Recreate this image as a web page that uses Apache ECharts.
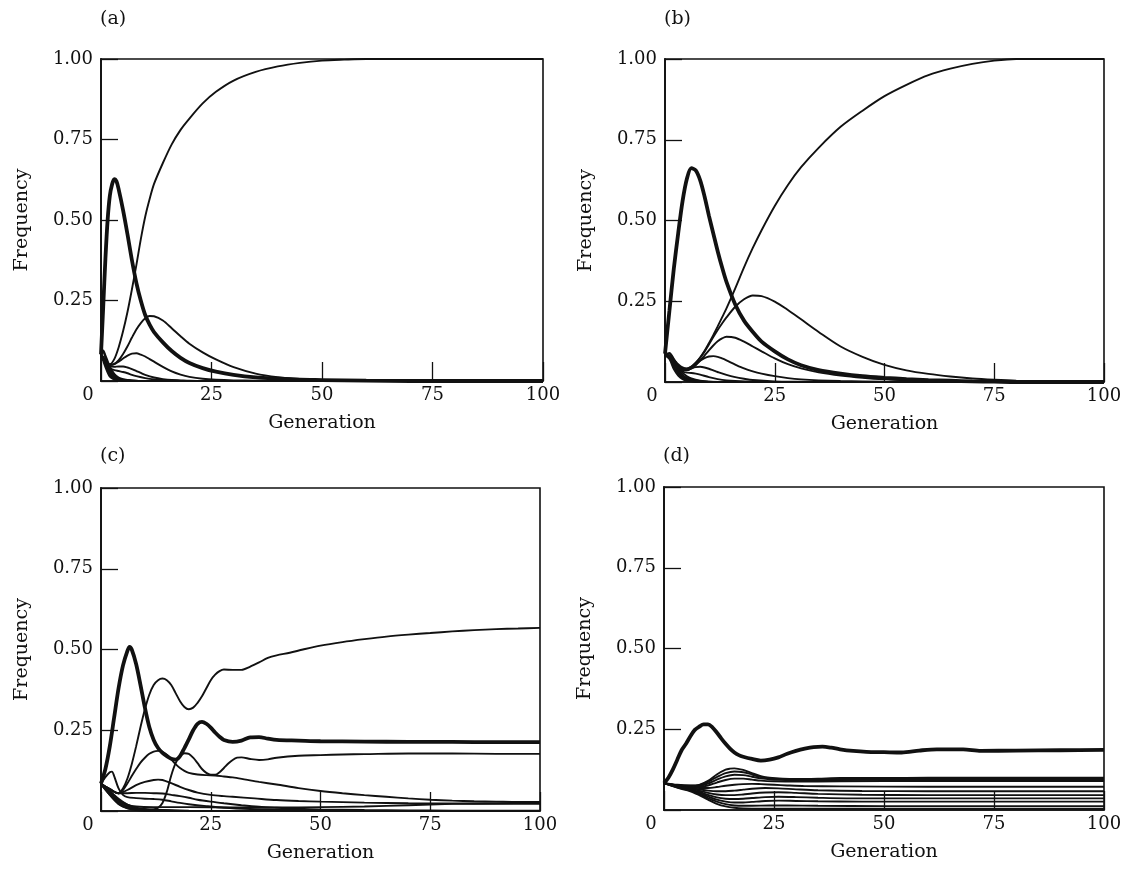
<!DOCTYPE html>
<html>
<head>
<meta charset="utf-8">
<title>Allele frequencies over 100 generations</title>
<script src="https://cdn.jsdelivr.net/npm/echarts@6/dist/echarts.min.js"></script>
<style>
  html, body { margin: 0; padding: 0; background: #fff; }
  #chart { width: 1125px; height: 871px; }
</style>
</head>
<body>
<div id="chart"></div>
<script>
// Axis ticks
const genTicks = [0, 25, 50, 75, 100];
const freqTicks = [0.25, 0.50, 0.75, 1.00];
const panelLabels = ['(a)', '(b)', '(c)', '(d)'];

// ---- Panel (a): [generation, frequency] ----
const aThick = [[0,0.083],[0.5,0.23],[1,0.38],[1.5,0.5],[2,0.575],[2.5,0.61],[3,0.627],[3.5,0.62],[4,0.595],[5,0.53],[6,0.455],[7,0.375],[8,0.305],[9,0.25],[10,0.205],[11,0.175],[12,0.152],[14,0.12],[16,0.093],[18,0.072],[20,0.056],[23,0.04],[26,0.029],[30,0.019],[35,0.011],[40,0.007],[45,0.004],[50,0.003],[60,0.001],[70,0],[100,0]];
const aRise = [[0,0.083],[1,0.062],[2,0.052],[3,0.068],[4,0.105],[5,0.155],[6,0.215],[7,0.285],[8,0.36],[9,0.44],[10,0.51],[11,0.565],[12,0.612],[14,0.677],[16,0.735],[18,0.78],[20,0.815],[23,0.862],[26,0.898],[30,0.933],[35,0.96],[40,0.977],[45,0.988],[50,0.995],[55,0.998],[60,1],[100,1]];
const aPeak20 = [[0,0.083],[1,0.062],[2,0.05],[3,0.053],[4,0.065],[5,0.084],[6,0.108],[7,0.135],[8,0.16],[9,0.18],[10,0.195],[11,0.202],[12,0.201],[14,0.188],[16,0.164],[18,0.139],[20,0.116],[23,0.089],[26,0.067],[30,0.043],[35,0.023],[40,0.012],[45,0.006],[50,0.003],[60,0.001],[70,0],[100,0]];
const aPeak09 = [[0,0.083],[1,0.062],[2,0.05],[3,0.052],[4,0.06],[5,0.07],[6,0.079],[7,0.085],[8,0.086],[9,0.082],[10,0.076],[11,0.068],[12,0.06],[14,0.044],[16,0.03],[18,0.02],[20,0.013],[23,0.007],[26,0.004],[30,0.002],[35,0.001],[40,0],[100,0]];
const aPeak045 = [[0,0.083],[1,0.06],[2,0.047],[3,0.044],[4,0.045],[5,0.045],[6,0.042],[7,0.037],[8,0.031],[9,0.025],[10,0.019],[12,0.011],[14,0.006],[16,0.003],[18,0.002],[20,0.001],[25,0],[100,0]];
const aSlow = [[0,0.083],[1,0.058],[2,0.04],[3,0.034],[4,0.031],[5,0.028],[6,0.024],[7,0.019],[8,0.015],[10,0.009],[12,0.005],[14,0.003],[16,0.002],[20,0],[100,0]];
const aLost1 = [[0,0.083],[0.5,0.095],[1,0.08],[2,0.045],[3,0.022],[4,0.011],[5,0.006],[7,0.002],[10,0],[100,0]];
const aLost2 = [[0,0.083],[0.5,0.09],[1,0.072],[2,0.036],[3,0.017],[4,0.008],[5,0.004],[7,0.001],[10,0],[100,0]];
const aLost3 = [[0,0.083],[1,0.065],[2,0.03],[3,0.013],[4,0.006],[5,0.003],[7,0.001],[10,0],[100,0]];
const aLost4 = [[0,0.083],[1,0.058],[2,0.024],[3,0.009],[4,0.004],[5,0.002],[8,0],[100,0]];
const aLost5 = [[0,0.083],[1,0.05],[2,0.018],[3,0.006],[4,0.002],[6,0],[100,0]];
const aLost6 = [[0,0.083],[1,0.043],[2,0.013],[3,0.004],[4,0.001],[6,0],[100,0]];

// ---- Panel (b) ----
const bThick = [[0,0.088],[1,0.22],[2,0.35],[3,0.46],[4,0.56],[5,0.63],[6,0.662],[7,0.655],[8,0.625],[9,0.575],[10,0.515],[11,0.46],[12,0.405],[13,0.355],[14,0.31],[16,0.24],[18,0.19],[20,0.155],[22,0.125],[25,0.095],[28,0.07],[31,0.052],[35,0.037],[40,0.026],[45,0.018],[50,0.013],[55,0.009],[60,0.006],[65,0.004],[70,0.002],[75,0.001],[80,0],[100,0]];
const bRise = [[0,0.083],[1,0.08],[2,0.07],[3,0.055],[4,0.045],[5,0.042],[6,0.048],[7,0.06],[8,0.076],[9,0.096],[10,0.12],[11,0.145],[12,0.172],[13,0.2],[14,0.228],[16,0.29],[18,0.355],[20,0.415],[22,0.47],[25,0.545],[28,0.61],[31,0.665],[35,0.725],[40,0.79],[45,0.84],[50,0.885],[55,0.92],[60,0.95],[65,0.97],[70,0.985],[75,0.995],[80,1],[100,1]];
const bPeak27 = [[0,0.083],[1,0.08],[2,0.068],[3,0.052],[4,0.043],[5,0.041],[6,0.047],[7,0.059],[8,0.075],[9,0.094],[10,0.116],[11,0.139],[12,0.161],[13,0.181],[14,0.2],[16,0.233],[18,0.256],[20,0.268],[22,0.266],[25,0.249],[28,0.223],[31,0.194],[35,0.155],[40,0.11],[45,0.078],[50,0.053],[55,0.036],[60,0.025],[65,0.017],[70,0.011],[75,0.007],[80,0.004],[90,0.001],[100,0]];
const bPeak14 = [[0,0.083],[1,0.08],[2,0.066],[3,0.05],[4,0.04],[5,0.037],[6,0.042],[7,0.052],[8,0.066],[9,0.082],[10,0.098],[11,0.113],[12,0.126],[13,0.135],[14,0.14],[16,0.137],[18,0.125],[20,0.11],[22,0.095],[25,0.073],[28,0.055],[31,0.042],[35,0.03],[40,0.02],[45,0.013],[50,0.008],[55,0.005],[60,0.003],[70,0.001],[80,0],[100,0]];
const bPeak08 = [[0,0.083],[1,0.078],[2,0.062],[3,0.047],[4,0.038],[5,0.036],[6,0.043],[7,0.055],[8,0.066],[9,0.074],[10,0.079],[11,0.08],[12,0.078],[13,0.073],[14,0.067],[16,0.054],[18,0.042],[20,0.033],[22,0.026],[25,0.018],[28,0.012],[31,0.008],[35,0.005],[40,0.003],[50,0.001],[60,0],[100,0]];
const bPeak045 = [[0,0.083],[1,0.076],[2,0.058],[3,0.044],[4,0.037],[5,0.037],[6,0.042],[7,0.046],[8,0.047],[9,0.045],[10,0.041],[11,0.036],[12,0.031],[14,0.022],[16,0.015],[18,0.01],[20,0.006],[25,0.002],[30,0.001],[40,0],[100,0]];
const bSlow = [[0,0.083],[1,0.074],[2,0.055],[3,0.04],[4,0.032],[5,0.029],[6,0.028],[7,0.026],[8,0.023],[10,0.015],[12,0.009],[14,0.005],[16,0.003],[20,0.001],[30,0],[100,0]];
const bLost1 = [[0,0.083],[1,0.09],[2,0.072],[3,0.046],[4,0.028],[5,0.018],[6,0.011],[8,0.004],[10,0.001],[15,0],[100,0]];
const bLost2 = [[0,0.083],[1,0.087],[2,0.064],[3,0.038],[4,0.022],[5,0.013],[6,0.008],[8,0.003],[10,0.001],[15,0],[100,0]];
const bLost3 = [[0,0.083],[1,0.082],[2,0.056],[3,0.032],[4,0.017],[5,0.01],[6,0.006],[8,0.002],[12,0],[100,0]];
const bLost4 = [[0,0.083],[1,0.077],[2,0.048],[3,0.026],[4,0.013],[5,0.007],[6,0.004],[8,0.001],[12,0],[100,0]];
const bLost5 = [[0,0.083],[1,0.071],[2,0.04],[3,0.02],[4,0.009],[5,0.004],[6,0.002],[8,0],[100,0]];

// ---- Panel (c) ----
const cThick = [[0,0.085],[1,0.13],[2,0.2],[3,0.29],[4,0.38],[5,0.45],[6,0.495],[6.5,0.508],[7,0.5],[8,0.455],[9,0.39],[10,0.32],[11,0.26],[12,0.22],[13,0.195],[14,0.18],[15,0.17],[16,0.162],[17,0.159],[18,0.17],[19,0.195],[20,0.222],[21,0.25],[22,0.27],[23,0.276],[24,0.27],[25,0.258],[26,0.243],[27,0.23],[28,0.22],[30,0.214],[32,0.218],[34,0.228],[36,0.229],[38,0.224],[40,0.22],[45,0.218],[50,0.216],[60,0.215],[70,0.214],[80,0.214],[90,0.213],[100,0.213]];
const cTop = [[0,0.083],[2,0.068],[4,0.055],[5,0.07],[6,0.1],[7,0.145],[8,0.2],[9,0.26],[10,0.315],[11,0.36],[12,0.39],[13,0.405],[14,0.41],[15,0.405],[16,0.39],[17,0.365],[18,0.34],[19,0.322],[20,0.315],[21,0.32],[22,0.335],[23,0.355],[24,0.38],[25,0.405],[26,0.422],[27,0.433],[28,0.438],[30,0.437],[32,0.437],[34,0.447],[36,0.46],[38,0.474],[40,0.482],[43,0.49],[46,0.5],[50,0.512],[55,0.523],[60,0.532],[65,0.54],[70,0.546],[75,0.551],[80,0.556],[85,0.56],[90,0.563],[95,0.565],[100,0.567]];
const cLate = [[0,0.083],[2,0.05],[4,0.022],[6,0.009],[8,0.004],[10,0.003],[12,0.005],[13,0.01],[14,0.025],[15,0.06],[16,0.11],[17,0.148],[18,0.17],[19,0.179],[20,0.177],[21,0.165],[22,0.148],[23,0.13],[24,0.118],[25,0.112],[26,0.112],[27,0.12],[28,0.133],[29,0.147],[30,0.158],[31,0.165],[32,0.166],[34,0.161],[36,0.158],[38,0.16],[40,0.165],[45,0.171],[50,0.173],[55,0.175],[60,0.176],[70,0.178],[80,0.178],[90,0.177],[100,0.177]];
const cFall = [[0,0.083],[2,0.068],[4,0.055],[5,0.065],[6,0.085],[7,0.108],[8,0.13],[9,0.15],[10,0.165],[11,0.177],[12,0.184],[13,0.186],[14,0.183],[15,0.174],[16,0.16],[17,0.145],[18,0.133],[19,0.124],[20,0.118],[22,0.113],[24,0.111],[26,0.11],[28,0.107],[30,0.104],[33,0.097],[36,0.09],[40,0.082],[45,0.071],[50,0.062],[55,0.055],[60,0.049],[65,0.044],[70,0.039],[75,0.035],[80,0.032],[85,0.03],[90,0.029],[95,0.028],[100,0.028]];
const cMid = [[0,0.083],[2,0.068],[4,0.055],[6,0.065],[8,0.08],[10,0.09],[12,0.096],[13,0.097],[14,0.096],[16,0.086],[18,0.075],[20,0.065],[22,0.057],[25,0.05],[28,0.046],[30,0.044],[35,0.039],[40,0.034],[45,0.031],[50,0.029],[60,0.026],[70,0.024],[80,0.023],[90,0.022],[100,0.022]];
const cFlat = [[0,0.083],[2,0.065],[4,0.055],[6,0.055],[8,0.056],[10,0.056],[12,0.055],[14,0.054],[16,0.05],[18,0.046],[20,0.041],[22,0.035],[25,0.029],[28,0.024],[32,0.018],[36,0.013],[40,0.01],[45,0.007],[50,0.005],[60,0.003],[70,0.002],[80,0.001],[100,0.001]];
const cSpike = [[0,0.085],[1,0.105],[2,0.12],[2.5,0.122],[3,0.108],[4,0.07],[5,0.05],[6,0.043],[8,0.04],[10,0.038],[12,0.037],[14,0.035],[16,0.03],[18,0.025],[20,0.021],[24,0.015],[28,0.01],[34,0.006],[40,0.004],[50,0.002],[60,0.001],[100,0]];
const cLow = [[0,0.083],[2,0.06],[4,0.035],[6,0.02],[8,0.014],[12,0.012],[20,0.012],[30,0.011],[40,0.011],[50,0.012],[60,0.014],[70,0.018],[80,0.022],[90,0.024],[100,0.025]];
const cLost1 = [[0,0.083],[2,0.062],[4,0.038],[6,0.02],[8,0.01],[10,0.006],[14,0.003],[20,0.001],[30,0],[100,0]];
const cLost2 = [[0,0.083],[2,0.058],[4,0.032],[6,0.016],[8,0.008],[10,0.004],[14,0.002],[20,0],[100,0]];
const cLost3 = [[0,0.083],[2,0.054],[4,0.027],[6,0.012],[8,0.005],[10,0.002],[14,0.001],[20,0],[100,0]];
const cLost4 = [[0,0.083],[2,0.05],[4,0.022],[6,0.008],[8,0.003],[10,0.001],[14,0],[100,0]];

// ---- Panel (d) ----
const dThick = [[0,0.083],[1,0.1],[2,0.125],[3,0.155],[4,0.185],[5,0.205],[6,0.228],[7,0.248],[8,0.258],[9,0.265],[10,0.265],[11,0.256],[12,0.24],[13,0.222],[14,0.205],[15,0.19],[16,0.178],[17,0.17],[18,0.165],[20,0.158],[22,0.153],[24,0.156],[26,0.163],[28,0.174],[30,0.183],[32,0.19],[34,0.195],[36,0.196],[38,0.193],[40,0.188],[43,0.183],[46,0.18],[50,0.179],[54,0.178],[58,0.184],[62,0.188],[68,0.188],[72,0.183],[80,0.184],[90,0.185],[100,0.186]];
const d1 = [[0,0.083],[3,0.078],[6,0.076],[8,0.078],[10,0.09],[12,0.11],[14,0.125],[15,0.128],[16,0.129],[18,0.124],[20,0.114],[22,0.105],[24,0.1],[27,0.097],[30,0.096],[35,0.097],[40,0.099],[50,0.099],[60,0.1],[70,0.1],[80,0.1],[90,0.1],[100,0.1]];
const d2 = [[0,0.083],[3,0.077],[6,0.075],[8,0.077],[10,0.087],[12,0.102],[14,0.114],[16,0.119],[18,0.117],[20,0.11],[22,0.102],[25,0.097],[30,0.095],[40,0.096],[50,0.097],[60,0.097],[80,0.097],[100,0.097]];
const d3 = [[0,0.083],[3,0.076],[6,0.074],[8,0.075],[10,0.082],[12,0.094],[14,0.104],[16,0.109],[18,0.108],[20,0.103],[22,0.098],[25,0.094],[30,0.092],[40,0.093],[50,0.094],[70,0.094],[100,0.094]];
const d4 = [[0,0.083],[3,0.075],[6,0.072],[8,0.072],[10,0.076],[12,0.085],[14,0.093],[16,0.097],[18,0.097],[20,0.094],[22,0.091],[25,0.089],[30,0.088],[40,0.089],[60,0.09],[100,0.09]];
const d5 = [[0,0.083],[3,0.075],[6,0.07],[8,0.068],[10,0.068],[12,0.071],[14,0.075],[16,0.078],[18,0.08],[20,0.081],[22,0.08],[25,0.078],[28,0.076],[32,0.074],[40,0.073],[60,0.072],[100,0.072]];
const d6 = [[0,0.083],[3,0.074],[6,0.068],[8,0.064],[10,0.06],[12,0.058],[14,0.058],[16,0.06],[18,0.063],[20,0.066],[23,0.068],[26,0.067],[30,0.064],[35,0.061],[45,0.059],[60,0.058],[100,0.058]];
const d7 = [[0,0.083],[3,0.073],[6,0.066],[8,0.06],[10,0.053],[12,0.048],[14,0.046],[16,0.046],[18,0.048],[20,0.051],[23,0.054],[26,0.055],[30,0.053],[35,0.05],[45,0.047],[60,0.046],[100,0.046]];
const d8 = [[0,0.083],[3,0.072],[6,0.064],[8,0.056],[10,0.047],[12,0.039],[14,0.035],[16,0.034],[18,0.035],[20,0.037],[23,0.04],[26,0.041],[30,0.04],[35,0.038],[45,0.036],[60,0.036],[100,0.036]];
const d9 = [[0,0.083],[3,0.071],[6,0.062],[8,0.053],[10,0.042],[12,0.032],[14,0.026],[16,0.023],[18,0.023],[20,0.025],[23,0.028],[26,0.029],[30,0.028],[35,0.027],[45,0.026],[60,0.026],[100,0.026]];
const d10 = [[0,0.083],[3,0.07],[6,0.06],[8,0.05],[10,0.037],[12,0.026],[14,0.018],[16,0.014],[18,0.013],[20,0.013],[24,0.014],[28,0.014],[35,0.013],[50,0.012],[100,0.012]];
const d11 = [[0,0.083],[3,0.069],[6,0.058],[8,0.046],[10,0.032],[12,0.019],[14,0.011],[16,0.007],[18,0.005],[22,0.004],[30,0.004],[50,0.004],[100,0.004]];

// Curves per panel: thin lines first, the bold line last
const panels = [
  { thin: [aRise, aPeak20, aPeak09, aPeak045, aSlow, aLost1, aLost2, aLost3, aLost4, aLost5, aLost6], bold: aThick },
  { thin: [bRise, bPeak27, bPeak14, bPeak08, bPeak045, bSlow, bLost1, bLost2, bLost3, bLost4, bLost5], bold: bThick },
  { thin: [cTop, cLate, cFall, cMid, cFlat, cSpike, cLow, cLost1, cLost2, cLost3, cLost4], bold: cThick },
  { thin: [d1, d2, d3, d4, d5, d6, d7, d8, d9, d10, d11], bold: dThick }
];

const ink = '#111111';
const serif = 'DejaVu Serif';

// Plot rectangles (left, top, width, height) for the 2x2 layout
const boxes = [
  { left: 101, top: 59, width: 442, height: 322 },
  { left: 665, top: 59, width: 439, height: 323 },
  { left: 101, top: 488, width: 439, height: 323 },
  { left: 664, top: 487, width: 440, height: 323 }
];
// Vertical positions of the panel letters
const labelTops = [10, 10, 447, 447];

const grid = boxes.map(b => ({
  left: b.left, top: b.top, width: b.width, height: b.height,
  show: true, borderColor: ink, borderWidth: 1.6, backgroundColor: 'transparent'
}));

const xAxis = boxes.map((b, i) => ({
  type: 'value', gridIndex: i, min: genTicks[0], max: genTicks[genTicks.length - 1], interval: 25,
  name: 'Generation', nameLocation: 'middle', nameGap: 33,
  nameTextStyle: { fontFamily: serif, fontSize: 19, color: ink },
  axisLine: { show: true, onZero: false, lineStyle: { color: ink, width: 1.6 } },
  axisTick: { show: true, inside: true, length: 19, lineStyle: { color: ink, width: 1.3 } },
  splitLine: { show: false },
  axisLabel: {
    color: ink, fontFamily: serif, fontSize: 18, margin: 5,
    formatter: v => genTicks.indexOf(v) === 0 ? '{z|0}' : String(v),
    rich: { z: { fontFamily: serif, fontSize: 18, color: ink, padding: [0, 26, 0, 0] } }
  }
}));

const yAxis = boxes.map((b, i) => ({
  type: 'value', gridIndex: i, min: 0, max: 1, interval: 0.25,
  name: 'Frequency', nameLocation: 'middle', nameGap: 69, nameRotate: 90,
  nameTextStyle: { fontFamily: serif, fontSize: 19, color: ink },
  axisLine: { show: true, onZero: false, lineStyle: { color: ink, width: 1.8 } },
  axisTick: { show: true, inside: true, length: 17, lineStyle: { color: ink, width: 1.3 } },
  splitLine: { show: false },
  axisLabel: {
    color: ink, fontFamily: serif, fontSize: 18, margin: 8,
    formatter: v => {
      const hit = freqTicks.find(t => Math.abs(t - v) < 1e-9);
      return hit === undefined ? '' : hit.toFixed(2);
    }
  }
}));

const series = [];
panels.forEach((p, i) => {
  p.thin.forEach(d => series.push({
    type: 'line', xAxisIndex: i, yAxisIndex: i, data: d,
    smooth: 0.3, symbol: 'none', silent: true, clip: true,
    lineStyle: { color: ink, width: 1.9 }, z: 2
  }));
  series.push({
    type: 'line', xAxisIndex: i, yAxisIndex: i, data: p.bold,
    smooth: 0.3, symbol: 'none', silent: true, clip: true,
    lineStyle: { color: ink, width: 3.8 }, z: 3
  });
});

const title = panelLabels.map((t, i) => ({
  text: t, left: boxes[i].left - 6, top: labelTops[i], padding: [0, 5],
  textStyle: { fontFamily: serif, fontSize: 19, fontWeight: 'normal', color: ink }
}));

const chart = echarts.init(document.getElementById('chart'), null, { renderer: 'canvas' });
chart.setOption({
  animation: false,
  backgroundColor: '#ffffff',
  title, grid, xAxis, yAxis, series
});
</script>
</body>
</html>
